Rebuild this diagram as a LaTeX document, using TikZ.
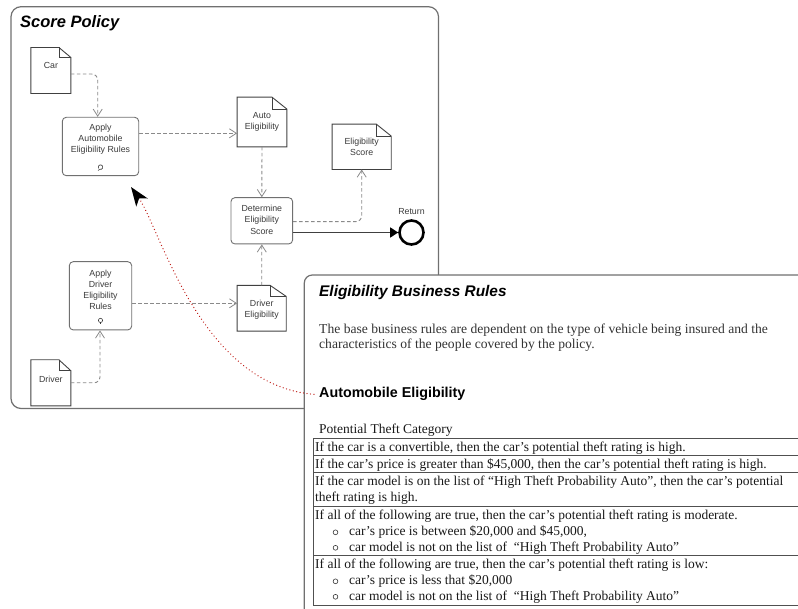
\documentclass[tikz,border=0pt]{standalone}
\usepackage{fontspec}
\setmainfont{Liberation Serif}
\newfontfamily\arialf{Liberation Sans}
\usetikzlibrary{arrows.meta}
\definecolor{framegray}{HTML}{707070}
\definecolor{linegray}{HTML}{8A8A8A}
\definecolor{txtgray}{HTML}{3A3A3A}
\definecolor{docline}{HTML}{404040}
\definecolor{dotred}{HTML}{C0201A}
\definecolor{paratxt}{HTML}{333333}
\definecolor{tabline}{HTML}{505050}
\newcommand\drawdoc[3]{%
  \draw[docline, line width=0.9pt] (#1.south west) -- (#1.north west) -- ([xshift=-#2pt]#1.north east) -- ([yshift=-#3pt]#1.north east) -- (#1.south east) -- cycle;
  \draw[docline, line width=0.5pt] ([xshift=-#2pt]#1.north east) -- ([xshift=-#2pt,yshift=-#3pt]#1.north east) -- ([yshift=-#3pt]#1.north east);
}
\begin{document}
\begin{tikzpicture}[x=1pt,y=-1pt,
  lbl/.style={font=\arialf\fontsize{8.8}{11.2}\selectfont, text=txtgray, align=center, inner sep=0pt},
  procbox/.style={draw=framegray, rounded corners=4pt, line width=0.9pt, inner sep=0pt},
  docbox/.style={inner sep=0pt},
  dashconn/.style={draw=linegray, line width=0.9pt, dash pattern=on 3.5pt off 2.5pt, -{Straight Barb[length=7pt,width=9pt,line width=0.8pt]}},
  solidconn/.style={draw=docline, line width=1.3pt, -{Triangle[length=8pt,width=10pt,color=black]}},
  iconst/.style={draw=txtgray, line width=0.6pt},
  tt/.style={anchor=base west, font=\fontsize{13.5}{16}\selectfont, inner sep=0pt, text=black!90},
  tabln/.style={draw=tabline, line width=0.9pt},
  bul/.style={draw=txtgray, line width=0.6pt}
]
\useasboundingbox (0,0) rectangle (798,609);

% outer frame
\draw[framegray, line width=1.2pt, rounded corners=10pt] (11,6.7) rectangle (438.5,408.5);
\node[anchor=base west, inner sep=0pt, font=\arialf\bfseries\itshape\fontsize{16.5}{20}\selectfont] (title) at (20,28) {Score Policy};

% nodes
\node[docbox, minimum width=39.7pt, minimum height=45.6pt, label={[lbl,yshift=5.5pt]center:Car}] (car) at (50.85,70.5) {};
\node[procbox, minimum width=76.4pt, minimum height=58.4pt, label={[lbl,yshift=7pt]center:Apply\\Automobile\\Eligibility Rules}] (aaer) at (100.5,146.5) {};
\node[docbox, minimum width=49.4pt, minimum height=49.4pt, label={[lbl]center:Auto\\Eligibility}] (autoel) at (262,122) {};
\node[docbox, minimum width=58.7pt, minimum height=45pt, label={[lbl]center:Eligibility\\Score}] (elscore) at (361.7,146.8) {};
\node[procbox, minimum width=61.7pt, minimum height=46.3pt, label={[lbl,yshift=1pt]center:Determine\\Eligibility\\Score}] (det) at (261.8,220.8) {};
\node[circle, draw=black, line width=2.6pt, minimum size=24pt, inner sep=0pt, label={[lbl,label distance=4pt]above:Return}] (ret) at (411.5,232.5) {};
\node[procbox, minimum width=62.4pt, minimum height=68.3pt, label={[lbl,yshift=5.8pt]center:Apply\\Driver\\Eligibility\\Rules}] (adr) at (100.5,295.8) {};
\node[docbox, minimum width=48.7pt, minimum height=45.3pt, label={[lbl,yshift=-1.5pt]center:Driver\\Eligibility}] (drvel) at (261.7,308.3) {};
\node[docbox, minimum width=39.7pt, minimum height=45.7pt, label={[lbl,yshift=3.8pt]center:Driver}] (drv) at (50.85,382.8) {};

\drawdoc{car}{12}{10}
\drawdoc{autoel}{15}{12}
\drawdoc{elscore}{15}{12}
\drawdoc{drvel}{16}{11}
\drawdoc{drv}{12}{11}

% loop icons
\path ([yshift=9pt]aaer.south) coordinate (ic1);
\draw[iconst] ([shift={(-110:2.3pt)}]ic1) arc[start angle=-110, delta angle=320, radius=2.3pt];
\draw[iconst] ([shift={(-110:2.3pt)}]ic1) -- ++(-1.6pt,-1.2pt);
\path ([yshift=10pt]adr.south) coordinate (ic2);
\draw[iconst] (ic2) circle[radius=2.1pt];
\draw[iconst] ([yshift=-2.1pt]ic2) -- ++(0pt,-1.4pt);

% connectors
\draw[dashconn, rounded corners=6pt] ([yshift=-3.5pt]car.east) -| ([xshift=-2.8pt]aaer.north);
\draw[dashconn] ([yshift=13.2pt]aaer.east) -- ([yshift=-11.3pt]autoel.west);
\draw[dashconn] (autoel.south) -- (det.north);
\draw[dashconn, rounded corners=6pt] ([yshift=-0.9pt]det.east) -| (elscore.south);
\draw[solidconn] ([yshift=-11.7pt]det.east) -- (ret.west);
\draw[dashconn] (drvel.north) -- (det.south);
\draw[dashconn] ([yshift=-7.5pt]adr.east) -- ([yshift=5pt]drvel.west);
\draw[dashconn, rounded corners=6pt] (drv.east) -| ([xshift=-0.5pt]adr.south);

% right panel
\fill[white] (304.3,275) rectangle (800,612);
\draw[framegray, line width=1.2pt, rounded corners=8pt] (304.3,612) -- (304.3,275) -- (800,275);

\node[anchor=base west, inner sep=0pt, font=\arialf\bfseries\itshape\fontsize{15.4}{18}\selectfont] (ebr) at (319,297) {Eligibility Business Rules};
\node[anchor=base west, inner sep=0pt, text=paratxt, font=\fontsize{13.6}{16}\selectfont] (p1) at (319,334) {The base business rules are dependent on the type of vehicle being insured and the};
\node[anchor=base west, inner sep=0pt, text=paratxt, font=\fontsize{13.6}{16}\selectfont] (p2) at (319,349) {characteristics of the people covered by the policy.};
\node[anchor=base west, inner sep=0pt, font=\arialf\bfseries\fontsize{14.3}{17}\selectfont] (ae) at (319,398) {Automobile Eligibility};
\node[tt] (ptc) at (319,434) {Potential Theft Category};

% table
\draw[tabln] (800,438) -- (313,438) -- (313,605) -- (800,605);
\draw[tabln] (313,455) -- (800,455);
\draw[tabln] (313,472) -- (800,472);
\draw[tabln] (313,506) -- (800,506);
\draw[tabln] (313,555.5) -- (800,555.5);

\node[tt] (r1) at (315,451) {If the car is a convertible, then the car’s potential theft rating is high.};
\node[tt] (r2) at (315,468) {If the car’s price is greater than \$45,000, then the car’s potential theft rating is high.};
\node[tt] (r3a) at (315,485) {If the car model is on the list of “High Theft Probability Auto”, then the car’s potential};
\node[tt] (r3b) at (315,501) {theft rating is high.};
\node[tt] (r4a) at (315,519.5) {If all of the following are true, then the car’s potential theft rating is moderate.};
\node[tt] (r4b) at (349,535.5) {car’s price is between \$20,000 and \$45,000,};
\node[tt] (r4c) at (349,551) {car model is not on the list of\hspace{0.5em}“High Theft Probability Auto”};
\node[tt] (r5a) at (315,568.5) {If all of the following are true, then the car’s potential theft rating is low:};
\node[tt] (r5b) at (349,584.5) {car’s price is less that \$20,000};
\node[tt] (r5c) at (349,600) {car model is not on the list of\hspace{0.5em}“High Theft Probability Auto”};
\draw[bul] (335.5,532.3) circle[radius=2.4pt];
\draw[bul] (335.5,547.8) circle[radius=2.4pt];
\draw[bul] (335.5,581.3) circle[radius=2.4pt];
\draw[bul] (335.5,596.8) circle[radius=2.4pt];

% red dotted link
\coordinate (tipA) at (131,187);
\draw[dotred, line width=1.3pt, line cap=round, dash pattern=on 0.1pt off 3.4pt, -{Stealth[length=19pt,width=14pt,inset=5pt,color=black]}] ([xshift=-5pt]ae.west) .. controls (200,385) and (160,228) .. (tipA);
\end{tikzpicture}
\end{document}
